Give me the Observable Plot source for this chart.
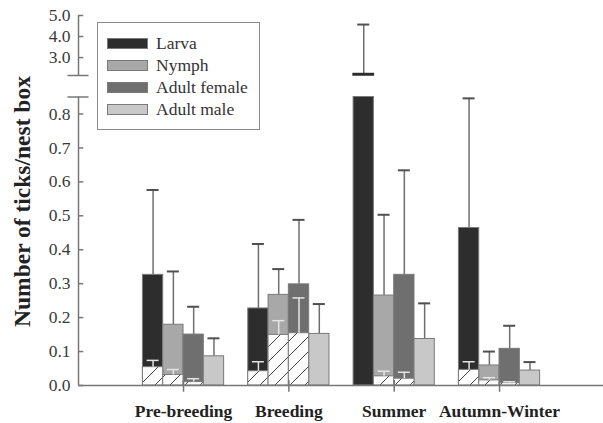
<!DOCTYPE html>
<html>
<head>
<meta charset="utf-8">
<script src="https://cdn.jsdelivr.net/npm/d3@7"></script>
<script src="https://cdn.jsdelivr.net/npm/@observablehq/plot@0.6"></script>
<style>
  body { margin: 0; background: #fff; }
  #wrap { position: relative; width: 603px; height: 423px; font-family: "Liberation Serif", "Times New Roman", serif; }
  #legend { position: absolute; left: 97px; top: 22px; width: 161px; height: 106px; border: 1px solid #8a8a8a; background: #fff; }
  .item { position: absolute; left: 9px; height: 22px; display: flex; align-items: center; font-size: 17.5px; color: #333; }
  .sw { width: 39px; height: 9px; border: 1px solid #7a7a7a; margin-right: 8px; }
</style>
</head>
<body>
<div id="wrap"></div>
<script>
const seasons = ["Pre-breeding", "Breeding", "Summer", "Autumn-Winter"];
const stages = ["Larva", "Nymph", "Adult female", "Adult male"];
const stageColors = ["#2d2d2d", "#a8a8a8", "#6f6f6f", "#c8c8c8"];

// mean number of ticks per nest box (bars)
const larvaMean  = [0.326, 0.227, 2.22, 0.464];
const nymphMean  = [0.179, 0.267, 0.265, 0.059];
const femaleMean = [0.150, 0.298, 0.326, 0.108];
const maleMean   = [0.086, 0.152, 0.137, 0.044];
// upper error (added to mean)
const larvaErr  = [0.250, 0.190, 2.35, 0.382];
const nymphErr  = [0.157, 0.076, 0.238, 0.041];
const femaleErr = [0.082, 0.190, 0.308, 0.068];
const maleErr   = [0.053, 0.088, 0.105, 0.025];
// hatched portion and its error
const larvaHatch  = [0.054, 0.042, 0, 0.046];
const nymphHatch  = [0.031, 0.149, 0.027, 0.015];
const femaleHatch = [0.010, 0.154, 0.020, 0.007];
const maleHatch   = [0, 0, 0, 0];
const larvaHatchErr  = [0.020, 0.028, 0, 0.024];
const nymphHatchErr  = [0.016, 0.042, 0.015, 0.008];
const femaleHatchErr = [0.010, 0.104, 0.019, 0.004];
const maleHatchErr   = [0, 0, 0, 0];

const yTicks = [0, 0.1, 0.2, 0.3, 0.4, 0.5, 0.6, 0.7, 0.8, 3, 4, 5];
const breakLow = 0.85, breakHigh = 2.15, yTop = 5;

const means = [larvaMean, nymphMean, femaleMean, maleMean];
const errs = [larvaErr, nymphErr, femaleErr, maleErr];
const hatches = [larvaHatch, nymphHatch, femaleHatch, maleHatch];
const hatchErrs = [larvaHatchErr, nymphHatchErr, femaleHatchErr, maleHatchErr];

const bw = 0.1927;      // bar width in x units (one unit = one season)
const cap = 0.057;      // cap half width
const xMin = -0.997;

const rows = [];
seasons.forEach((s, i) => stages.forEach((st, j) => {
  const x1 = i + (j - 2) * bw;
  rows.push({i, j, x1, x2: x1 + bw, xc: x1 + bw / 2,
    mean: means[j][i], err: errs[j][i], hatch: hatches[j][i], hatchErr: hatchErrs[j][i],
    color: stageColors[j]});
}));
const hatched = rows.filter(d => d.hatch > 0);
const axisSegs = [{y1: 0, y2: breakLow}, {y1: breakHigh, y2: yTop}];
const axisCol = "#777";

const svg = Plot.plot({
  width: 603, height: 423,
  marginLeft: 78, marginRight: 0, marginTop: 15, marginBottom: 38,
  style: {fontFamily: "'Liberation Serif', 'Times New Roman', serif", fontSize: "17.5px", color: "#333", background: "#fff"},
  x: {type: "linear", domain: [xMin, 3.987], axis: null},
  y: {type: "linear", domain: [0, breakLow, breakHigh, yTop], range: [385, 96.5, 75, 15], axis: null, label: null},
  color: {type: "identity"},
  marks: [
    // main error bars
    Plot.ruleX(rows, {x: "xc", y1: "mean", y2: d => d.mean + d.err, stroke: "#6e6e6e", strokeWidth: 1.5}),
    Plot.ruleY(rows, {y: d => d.mean + d.err, x1: d => d.xc - cap, x2: d => d.xc + cap, stroke: "#505050", strokeWidth: 2}),
    // bars, lower panel
    Plot.rectY(rows, {x1: "x1", x2: "x2", y1: 0, y2: d => Math.min(d.mean, breakLow), fill: "color", stroke: "#7a7a7a", strokeWidth: 1}),
    // bar tops above the break
    Plot.rectY(rows.filter(d => d.mean > breakHigh), {x1: "x1", x2: "x2", y1: breakHigh, y2: "mean", fill: "color", stroke: "#2d2d2d", strokeWidth: 1.5}),
    // hatched portions
    Plot.rectY(hatched, {x1: "x1", x2: "x2", y1: 0, y2: "hatch", fill: "url(#hatch)", stroke: "#7a7a7a", strokeWidth: 1}),
    Plot.ruleX(hatched, {x: "xc", y1: "hatch", y2: d => d.hatch + d.hatchErr, stroke: "#e4e4e4", strokeWidth: 1.5}),
    Plot.ruleY(hatched, {y: d => d.hatch + d.hatchErr, x1: d => d.xc - cap, x2: d => d.xc + cap, stroke: "#e4e4e4", strokeWidth: 1.5}),
    // y axis (broken)
    Plot.ruleX(axisSegs, {x: xMin, y1: "y1", y2: "y2", stroke: axisCol, strokeWidth: 1.5}),
    Plot.ruleY(yTicks, {y: d => d, x1: xMin, x2: xMin + 0.05, stroke: axisCol, strokeWidth: 1.5}),
    Plot.ruleY([breakLow, breakHigh], {y: d => d, x1: xMin - 0.1, x2: xMin + 0.1, stroke: axisCol, strokeWidth: 1.5}),
    Plot.axisY({ticks: yTicks, tickSize: 0, tickPadding: 8, tickFormat: d3.format(".1f"), fontSize: 17.5, fill: "#3a3a3a"}),
    // x axis
    Plot.ruleY([0], {y: d => d, x1: xMin, x2: 3.987, stroke: axisCol, strokeWidth: 1.5}),
    Plot.ruleX(seasons.map((s, i) => i), {x: d => d, y1: -0.02, y2: 0.015, stroke: axisCol, strokeWidth: 1.5}),
    Plot.text(seasons.map((s, i) => i), {x: d => d, y: 0, dy: 25.5, text: d => seasons[d], fontWeight: "bold", fontSize: 17.5, fill: "#222"}),
    // y label
    Plot.text(["Number of ticks/nest box"], {frameAnchor: "left", textAnchor: "middle", text: d => d, rotate: -90, dx: -56, dy: 1, fontWeight: "bold", fontSize: 23.5, fill: "#222"})
  ]
});

const defs = d3.select(svg).insert("defs", ":first-child");
const pat = defs.append("pattern").attr("id", "hatch").attr("patternUnits", "userSpaceOnUse")
  .attr("width", 15).attr("height", 15);
pat.append("rect").attr("width", 15).attr("height", 15).attr("fill", "#fff");
pat.append("path").attr("d", "M0,15L15,0M-1,1L1,-1M14,16L16,14").attr("stroke", "#444").attr("stroke-width", 1);

const wrap = document.getElementById("wrap");
wrap.appendChild(svg);

const legend = document.createElement("div");
legend.id = "legend";
stages.forEach((st, j) => {
  const it = document.createElement("div");
  it.className = "item";
  it.style.top = (9 + j * 22.2) + "px";
  const sw = document.createElement("div");
  sw.className = "sw";
  sw.style.background = stageColors[j];
  it.appendChild(sw);
  it.appendChild(document.createTextNode(st));
  legend.appendChild(it);
});
wrap.appendChild(legend);
</script>
</body>
</html>
